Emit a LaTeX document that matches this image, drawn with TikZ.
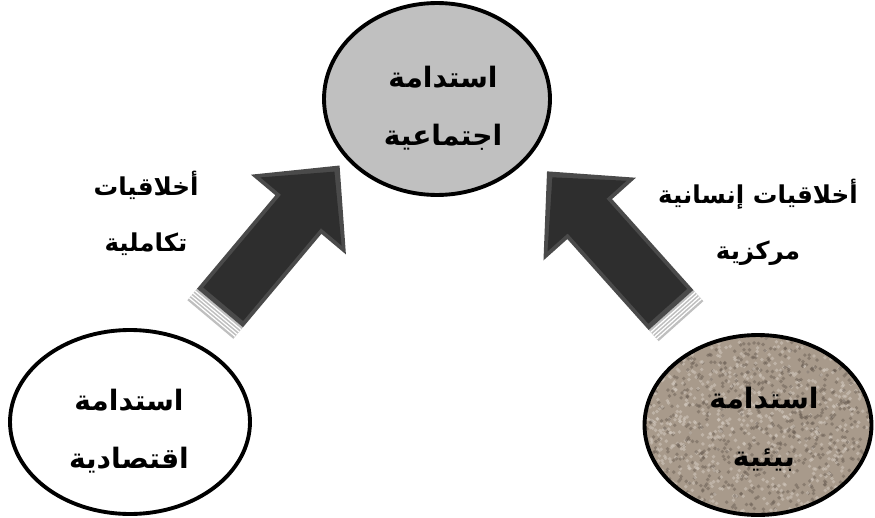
\documentclass[tikz,border=0pt]{standalone}
\usepackage{fontspec}
\newfontfamily\arabicfont[Script=Arabic]{DejaVu Sans}
\TeXXeTstate=1
\usetikzlibrary{shapes.geometric}
\definecolor{socialgray}{HTML}{C0C0C0}
\definecolor{sand}{HTML}{A89A8B}
\definecolor{sanddark}{HTML}{6B5F55}
\definecolor{sandlight}{HTML}{D6CDC3}
\definecolor{arrowcore}{HTML}{2E2E2E}
\definecolor{arrowedge}{HTML}{4A4A4A}
\tikzset{
  pillar/.style={ellipse, draw=black, line width=2.2pt, inner sep=0pt},
  pillartext/.style={align=center, font=\arabicfont\bfseries\fontsize{16}{33}\selectfont},
  ethic/.style={align=center, font=\arabicfont\bfseries\fontsize{14}{32}\selectfont},
  shell/.style={fill=arrowedge},
  core/.style={fill=arrowcore},
  plates/.style={fill=gray!50},
  plateline/.style={white, line width=0.7pt}
}
\begin{document}
\begin{tikzpicture}[x=0.02cm, y=-0.02cm, line join=round]
	\useasboundingbox (0,0) rectangle (875,517);
	% texture of the environmental ellipse
	\begin{scope}
		\clip (758,425) ellipse [x radius=112, y radius=89];
		\fill[sand] (640,330) rectangle (875,517);
		\pgfmathsetseed{11}
		\foreach \k in {1,...,800}{
			\fill[sanddark, opacity=0.5] (645+226*rnd, 335+180*rnd) circle (1.1pt);
			\fill[sandlight, opacity=0.5] (645+226*rnd, 335+180*rnd) circle (1.1pt);
		}
	\end{scope}
	% the three pillars
	\node[pillar, fill=socialgray, minimum width=4.52cm, minimum height=3.84cm] (social) at (437,99) {};
	\node[pillar, minimum width=4.8cm, minimum height=3.68cm] (economic) at (130,422) {};
	\node[pillar, minimum width=4.54cm, minimum height=3.6cm] (environ) at (758,425) {};
	\node[pillartext] (socialtext) at (443,108) {\beginR استدامة\endR\\\beginR اجتماعية\endR};
	\node[pillartext] (economictext) at (129,431) {\beginR استدامة\endR\\\beginR اقتصادية\endR};
	\node[pillartext] (environtext) at (764,429) {\beginR استدامة\endR\\\beginR بيئية\endR};
	% left arrow
	\begin{scope}[shift={(220,308)}, rotate=50]
		\fill[plates] (-15,-30) rectangle (0,30);
		\foreach \s in {-3,-6,-9,-12}
			\draw[plateline] (\s,-30) -- (\s,30);
		\fill[shell] (0,-30) -- (122,-30) -- (122,-62) -- (186,0) -- (122,62) -- (122,30) -- (0,30) -- cycle;
		\fill[core] (5,-26) -- (126,-26) -- (126,-53) -- (178,0) -- (126,53) -- (126,26) -- (5,26) -- cycle;
	\end{scope}
	% right arrow
	\begin{scope}[shift={(671,310)}, rotate=131.8]
		\fill[plates] (-15,-30) rectangle (0,30);
		\foreach \s in {-3,-6,-9,-12}
			\draw[plateline] (\s,-30) -- (\s,30);
		\fill[shell] (0,-30) -- (122,-30) -- (122,-62) -- (186,0) -- (122,62) -- (122,30) -- (0,30) -- cycle;
		\fill[core] (5,-26) -- (126,-26) -- (126,-53) -- (178,0) -- (126,53) -- (126,26) -- (5,26) -- cycle;
	\end{scope}
	% ethics labels
	\node[ethic] (integral) at (146,213) {\beginR أخلاقيات\endR\\\beginR تكاملية\endR};
	\node[ethic] (human) at (758,222) {\beginR أخلاقيات إنسانية\endR\\\beginR مركزية\endR};
\end{tikzpicture}
\end{document}
